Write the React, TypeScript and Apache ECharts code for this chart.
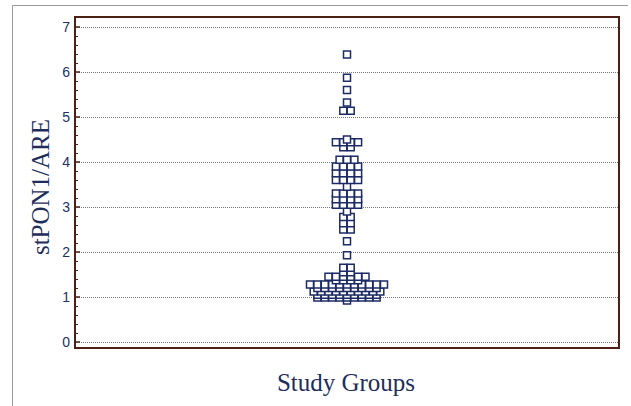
import React, { useEffect, useRef } from "react";
import * as echarts from "echarts";

// Dot-plot rows: value of the row and number of identical observations in it
const rowValues = [
  6.39, 5.87, 5.6, 5.32, 5.14, 4.5, 4.44, 4.33, 4.05, 3.9, 3.75, 3.6, 3.45,
  3.3, 3.17, 3.05, 2.9, 2.78, 2.64, 2.5, 2.24, 1.93, 1.65, 1.55, 1.45, 1.37,
  1.28, 1.2, 1.12, 1.05, 0.99, 0.92,
];
const rowCounts = [
  1, 1, 1, 1, 2, 1, 4, 2, 3, 4, 4, 4, 1, 4, 4, 4, 1, 2, 2, 2, 1, 1, 2, 2, 6, 4,
  11, 9, 10, 9, 9, 1,
];
const yTicks = [0, 1, 2, 3, 4, 5, 6, 7];
const yTitle = "stPON1/ARE";
const xTitle = "Study Groups";

const STEP = 7.4; // px between neighbouring squares
const GRID_LEFT = 75;
const GRID_RIGHT_EDGE = 619;

export default function App() {
  const ref = useRef<HTMLDivElement>(null);
  useEffect(() => {
    if (!ref.current) return;
    const chart = echarts.init(ref.current, undefined, { renderer: "svg" });
    const center = 347;
    const halfL = (center - GRID_LEFT) / STEP;
    const halfR = (GRID_RIGHT_EDGE - center) / STEP;
    const rows = rowValues
      .map((v, i) => ({ v, n: rowCounts[i] }))
      .sort((a, b) => a.v - b.v);
    const data: number[][] = [];
    rows.forEach(({ v, n }) => {
      for (let i = 0; i < n; i++) data.push([i - (n - 1) / 2, v]);
    });
    chart.setOption({
      animation: false,
      backgroundColor: "#ffffff",
      grid: { left: GRID_LEFT, right: 631 - GRID_RIGHT_EDGE, top: 27, bottom: 64 },
      xAxis: {
        type: "value",
        min: -halfL,
        max: halfR,
        show: false,
      },
      yAxis: {
        type: "value",
        min: yTicks[0],
        max: yTicks[yTicks.length - 1],
        interval: 1,
        axisLine: { show: false, onZero: false },
        axisTick: {
          show: true,
          inside: true,
          length: 5,
          lineStyle: { color: "#4d1f14", width: 1.5 },
        },
        minorTick: {
          show: true,
          splitNumber: 5,
          length: 3,
          lineStyle: { color: "#4d1f14", width: 1 },
        },
        axisLabel: {
          color: "#22305f",
          fontFamily: "Liberation Sans, Arial, sans-serif",
          fontSize: 14,
          margin: 5,
        },
        splitLine: {
          show: true,
          lineStyle: { color: "#777777", type: [1, 1], width: 1 },
        },
      },
      series: [
        {
          type: "scatter",
          symbol: "rect",
          symbolSize: 7,
          data,
          itemStyle: {
            color: "#ffffff",
            borderColor: "#1c2b66",
            borderWidth: 1.5,
            opacity: 1,
          },
          z: 3,
        },
      ],
      graphic: [
        {
          type: "polyline",
          shape: { points: [[12.5, 406], [12.5, 5.5], [628, 5.5]] },
          style: { stroke: "#999999", lineWidth: 1, fill: null },
          silent: true,
        },
        {
          type: "rect",
          shape: { x: 75, y: 17, width: 544, height: 331 },
          style: { stroke: "#4d1f14", lineWidth: 2, fill: null },
          z: 10,
          silent: true,
        },
        {
          type: "text",
          x: 40,
          y: 187,
          rotation: Math.PI / 2,
          style: {
            text: yTitle,
            fill: "#1f2d5a",
            font: "25px 'Liberation Serif', 'Times New Roman', serif",
            textAlign: "center",
            textVerticalAlign: "middle",
          },
        },
        {
          type: "text",
          x: 346,
          y: 382,
          style: {
            text: xTitle,
            fill: "#1f2d5a",
            font: "25px 'Liberation Serif', 'Times New Roman', serif",
            textAlign: "center",
            textVerticalAlign: "middle",
          },
        },
      ],
    });
    return () => chart.dispose();
  }, []);
  return (
    <div
      ref={ref}
      style={{ position: "absolute", left: 0, top: 0, width: 631, height: 406 }}
    />
  );
}
